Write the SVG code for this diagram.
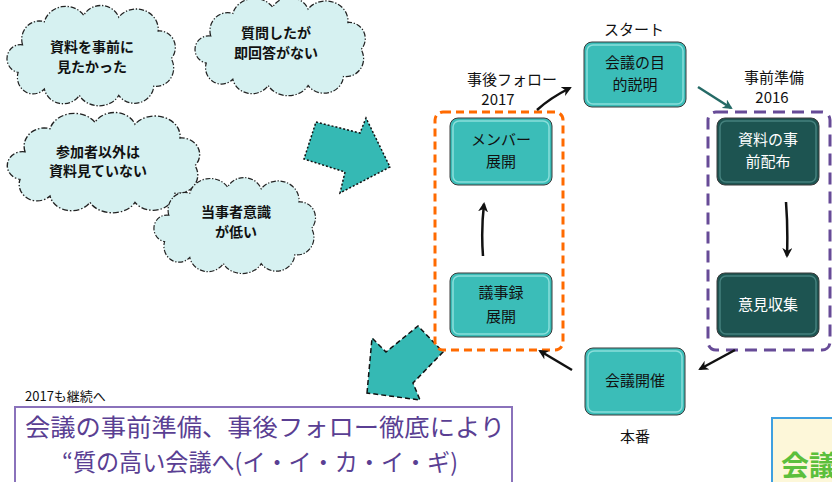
<svg xmlns="http://www.w3.org/2000/svg" width="832" height="482" viewBox="0 0 832 482">
<style>
text{font-family:"Noto Sans CJK JP","Liberation Sans",sans-serif;}
.cloud{fill:#d6f1f1;stroke:#222;stroke-width:1.4;stroke-dasharray:6 2 1.5 2;vector-effect:non-scaling-stroke;}
.ct{font-size:14px;fill:#111;text-anchor:middle;font-weight:bold;}
.nl{fill:#3bbdb8;stroke:#3a3a3a;stroke-width:1;}
.nd{fill:#1d5451;stroke:#3a3a3a;stroke-width:1;}
.hl{fill:none;stroke:#9fe6e2;stroke-width:1.5;opacity:0.8;}
.nt{font-size:15px;fill:#111;text-anchor:middle;}
.ntw{font-size:15px;fill:#fff;text-anchor:middle;}
.lb{font-size:15px;fill:#111;text-anchor:middle;}
.con{fill:none;stroke:#111;stroke-width:2.5;}
.blk{fill:#35b9b4;stroke:#111;stroke-width:1.5;}
.big{font-size:24px;fill:#5a3f93;}
</style>
<defs>
<path id="cl" d="M20,40 A20,20 0 0 1 45,15 A25,22 0 0 1 90,8 A22,20 0 0 1 130,10 A25,22 0 0 1 175,25 A18,18 0 0 1 190,55 A20,20 0 0 1 170,85 A22,20 0 0 1 130,95 A25,20 0 0 1 85,95 A22,20 0 0 1 45,88 A18,18 0 0 1 15,70 A15,15 0 0 1 20,40 Z"/>
<marker id="ah" viewBox="0 0 10 10" refX="8" refY="5" markerWidth="4" markerHeight="4" orient="auto"><path d="M0,0 L10,5 L0,10 L3,5 Z" fill="#111"/></marker>
<marker id="aht" viewBox="0 0 10 10" refX="8" refY="5" markerWidth="4" markerHeight="4" orient="auto"><path d="M0,0 L10,5 L0,10 L3,5 Z" fill="#256a66"/></marker>
<clipPath id="cornerclip"><rect x="760" y="400" width="72" height="82"/></clipPath>
</defs>

<g id="cloud1"><use href="#cl" class="cloud" transform="translate(5,8) scale(0.875,0.92)"/><text class="ct" x="92" y="52">資料を事前に</text><text class="ct" x="92" y="72">見たかった</text></g>
<g id="cloud2"><use href="#cl" class="cloud" transform="translate(193,0) scale(0.885,0.9)"/><text class="ct" x="276" y="38">質問したが</text><text class="ct" x="276" y="58">即回答がない</text></g>
<g id="cloud3"><use href="#cl" class="cloud" transform="translate(5,115) scale(1,0.92)"/><text class="ct" x="98" y="157">参加者以外は</text><text class="ct" x="98" y="176">資料見ていない</text></g>
<g id="cloud4"><use href="#cl" class="cloud" transform="translate(152,180) scale(0.84,0.88)"/><text class="ct" x="236" y="217">当事者意識</text><text class="ct" x="236" y="237">が低い</text></g>

<g id="bigarrow1"><polygon class="blk" style="stroke-dasharray:2 2" points="316,122 360,133 366,118 390,167 340,193 345,172 304,159"/></g>
<g id="bigarrow2"><polygon class="blk" style="stroke-dasharray:5 3" points="367,393 372,338 386,352 418,326 443,352 413,383 420,400"/></g>

<g id="group-follow"><rect x="435" y="112" width="128" height="238" rx="8" fill="none" stroke="#ff6a00" stroke-width="3" stroke-dasharray="8 5"/><text class="lb" x="512" y="85">事後フォロー</text><text class="lb" x="498" y="105">2017</text></g>
<g id="group-prep"><rect x="708" y="112" width="122" height="238" rx="8" fill="none" stroke="#674b97" stroke-width="3" stroke-dasharray="12 7"/><text class="lb" x="774" y="83">事前準備</text><text class="lb" x="772" y="103">2016</text></g>

<g id="n-start"><rect class="nl" x="584" y="42" width="102" height="65" rx="8"/><rect class="hl" x="587" y="45" width="96" height="59" rx="6"/><text class="nt" x="635" y="68">会議の目</text><text class="nt" x="635" y="90">的説明</text><text class="lb" x="634" y="35">スタート</text></g>
<g id="n-member"><rect class="nl" x="450" y="118" width="102" height="67" rx="8"/><rect class="hl" x="453" y="121" width="96" height="61" rx="6"/><text class="nt" x="501" y="145">メンバー</text><text class="nt" x="501" y="167">展開</text></g>
<g id="n-shiryo"><rect class="nd" x="717" y="118" width="102" height="67" rx="8"/><rect class="hl" x="720" y="121" width="96" height="61" rx="6" style="stroke:#4f8c88"/><text class="ntw" x="768" y="145">資料の事</text><text class="ntw" x="768" y="167">前配布</text></g>
<g id="n-gijiroku"><rect class="nl" x="450" y="273" width="102" height="64" rx="8"/><rect class="hl" x="453" y="276" width="96" height="58" rx="6"/><text class="nt" x="501" y="298">議事録</text><text class="nt" x="501" y="322">展開</text></g>
<g id="n-iken"><rect class="nd" x="717" y="273" width="102" height="64" rx="8"/><rect class="hl" x="720" y="276" width="96" height="58" rx="6" style="stroke:#4f8c88"/><text class="ntw" x="768" y="310">意見収集</text></g>
<g id="n-kaisai"><rect class="nl" x="585" y="348" width="100" height="67" rx="8"/><rect class="hl" x="588" y="351" width="94" height="61" rx="6"/><text class="nt" x="635" y="386">会議開催</text><text class="lb" x="635" y="442">本番</text></g>

<g id="connectors">
<path class="con" d="M537,110 Q550,98 570,88" marker-end="url(#ah)"/>
<path class="con" d="M698,87 L731,108" style="stroke:#256a66" marker-end="url(#aht)"/>
<path class="con" d="M786,202 Q788,228 787,256" marker-end="url(#ah)"/>
<path class="con" d="M735,350 L700,369" marker-end="url(#ah)"/>
<path class="con" d="M572,370 L540,351" marker-end="url(#ah)"/>
<path class="con" d="M483,256 Q481,230 484,204" marker-end="url(#ah)"/>
</g>

<g id="summary">
<text x="25" y="401" style="font-size:13px;fill:#111">2017も継続へ</text>
<rect x="15" y="407" width="497" height="80" fill="#fff" stroke="#8a72bb" stroke-width="2"/>
<text class="big" x="25" y="436" textLength="480" lengthAdjust="spacingAndGlyphs">会議の事前準備、事後フォロー徹底により</text>
<text class="big" x="62" y="471" textLength="396" lengthAdjust="spacingAndGlyphs">“質の高い会議へ(イ・イ・カ・イ・ギ)</text>
</g>

<g id="corner" clip-path="url(#cornerclip)">
<rect x="772" y="418" width="70" height="70" fill="#fdf7d9" stroke="#3fa0e0" stroke-width="2"/>
<text x="781" y="476" style="font-size:28px;font-weight:bold;fill:#5cbf3c">会議</text>
</g>
</svg>
